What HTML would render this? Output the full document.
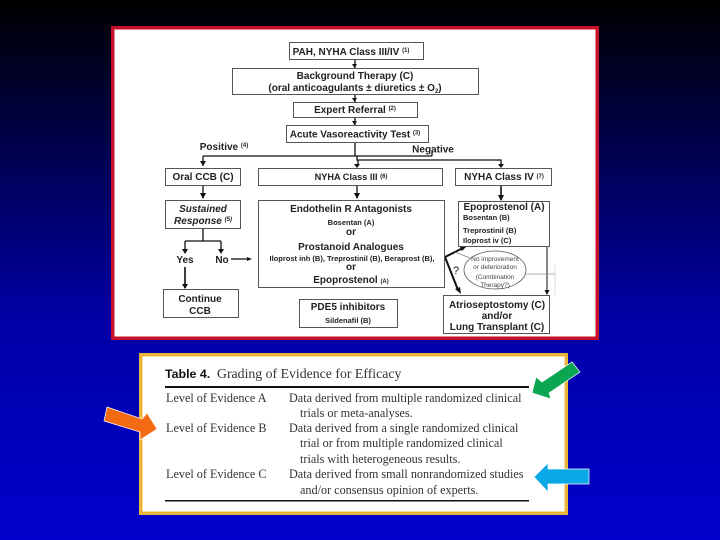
<!DOCTYPE html>
<html><head><meta charset="utf-8"><style>
html,body{margin:0;padding:0;width:720px;height:540px;overflow:hidden;background:#0000cc}
svg{display:block}
.b{fill:#fff;stroke:#555;stroke-width:1}
.l{stroke:#111;stroke-width:1.3;fill:none}
.h{fill:#111}
text{font-family:"Liberation Sans",sans-serif;font-weight:bold;fill:#222;text-anchor:middle}
.t{font-size:10px}
.s{font-size:7.500px}
.e{font-weight:normal;font-size:6.500px;fill:#444}
.r{font-family:"Liberation Serif",serif;font-weight:normal;font-size:12.200px;text-anchor:start;fill:#333}
</style></head><body>
<svg width="720" height="540" viewBox="0 0 720 540" xmlns="http://www.w3.org/2000/svg">
<defs><linearGradient id="g" x1="0" y1="0" x2="0" y2="1"><stop offset="0" stop-color="#000"/><stop offset=".6" stop-color="#0000a8"/><stop offset="1" stop-color="#0000cc"/></linearGradient></defs>
<rect width="720" height="540" fill="url(#g)"/>
<rect x="112.750" y="27.750" width="484.500" height="310.500" fill="#fff" stroke="#c8102a" stroke-width="3.500"/>

<!-- connectors -->
<g class="l">
<path d="M355 59V68M355 95V102M355 117V125"/>
<path d="M355 142V156M203 156H432M432 156V152"/>
<path d="M203 156V166M357 156V160H358V166M357 160H501V166"/>
<path d="M203 185V198M203 229V241M185 241H221M185 241V250M221 241V250"/>
<path d="M185 267V288" stroke-width="1.6"/>
<path d="M231 259H247"/>
<path d="M357 186V198"/>
<path d="M501 186V200" stroke-width="1.6"/>
<path d="M547 246V290" stroke="#444"/>
<path d="M445 257L463 248" stroke-width="2"/>
<path d="M445 257L458 290" stroke-width="2"/>
<path d="M455 252L470 258" stroke="#777" stroke-width=".7"/>
<path d="M526 274H555" stroke="#999" stroke-width=".7"/>
<path d="M555 265V295" stroke="#ccc" stroke-width=".7"/>
</g>
<g class="h">
<path d="M200 161h6l-3 5zM354 164h6l-3 4zM498 164h6l-3 4zM200 193h6l-3 6zM354 193h6l-3 6zM182 249h6l-3 5zM218 249h6l-3 5zM182 284h6l-3 5zM247 257v4l5-2zM352 64h5l-2.500 4zM352 98h5l-2.500 4zM352 121h5l-2.500 4zM498 195h6l-3 6zM544.500 290h5l-2.500 5zM467 246l-8-1 3 6zM461 294l-6-5 5-2z"/>
</g>

<!-- boxes -->
<rect class="b" x="289.500" y="42.500" width="134" height="17"/>
<rect class="b" x="232.500" y="68.500" width="246" height="26"/>
<rect class="b" x="293.500" y="102.500" width="124" height="15"/>
<rect class="b" x="286.500" y="125.500" width="142" height="17"/>
<rect class="b" x="165.500" y="168.500" width="75" height="17"/>
<rect class="b" x="258.500" y="168.500" width="184" height="17"/>
<rect class="b" x="455.500" y="168.500" width="96" height="17"/>
<rect class="b" x="165.500" y="200.500" width="75" height="28"/>
<rect class="b" x="258.500" y="200.500" width="186" height="87"/>
<rect class="b" x="163.500" y="289.500" width="75" height="28"/>
<rect class="b" x="299.500" y="299.500" width="98" height="28"/>
<rect class="b" x="458.500" y="201.500" width="91" height="45"/>
<rect class="b" x="443.500" y="295.500" width="106" height="38"/>
<ellipse cx="495" cy="270" rx="31" ry="19" fill="#fff" stroke="#555" stroke-width=".8"/>

<!-- flowchart labels -->
<text class="t" x="351" y="55">PAH, NYHA Class III/IV <tspan font-size="6" dy="-3">(1)</tspan></text>
<text class="t" x="355" y="79">Background Therapy (C)</text>
<text class="t" x="355" y="91">(oral anticoagulants ± diuretics ± O<tspan font-size="6" dy="2">2</tspan><tspan dy="-2">)</tspan></text>
<text class="t" x="355" y="113">Expert Referral <tspan font-size="6" dy="-3">(2)</tspan></text>
<text class="t" x="355" y="137.500">Acute Vasoreactivity Test <tspan font-size="6" dy="-3">(3)</tspan></text>
<text class="t" x="224" y="150">Positive <tspan font-size="6" dy="-3">(4)</tspan></text>
<text class="t" x="433" y="152.500">Negative</text>
<text class="t" x="203" y="180">Oral CCB (C)</text>
<text class="t" x="351" y="180" style="font-size:9.200px">NYHA Class III <tspan font-size="6" dy="-2">(6)</tspan></text>
<text class="t" x="504" y="180">NYHA Class IV <tspan font-size="6" dy="-2">(7)</tspan></text>
<text class="t" x="203" y="212" font-style="italic">Sustained</text>
<text class="t" x="203" y="224" font-style="italic">Response <tspan font-size="6" dy="-3">(5)</tspan></text>
<text class="t" x="185" y="263">Yes</text>
<text class="t" x="222" y="263">No</text>
<text class="t" x="200" y="302">Continue</text>
<text class="t" x="200" y="314">CCB</text>
<text class="t" x="351" y="212">Endothelin R Antagonists</text>
<text class="s" x="351" y="225">Bosentan (A)</text>
<text class="t" x="351" y="235">or</text>
<text class="t" x="351" y="250">Prostanoid Analogues</text>
<text class="s" x="352" y="261">Iloprost inh (B), Treprostinil (B), Beraprost (B),</text>
<text class="t" x="351" y="270">or</text>
<text class="t" x="351" y="283">Epoprostenol <tspan font-size="6">(A)</tspan></text>
<text class="t" x="348" y="310">PDE5 inhibitors</text>
<text class="s" x="348" y="323">Sildenafil (B)</text>
<text class="t" x="504" y="210">Epoprostenol (A)</text>
<text class="s" x="463" y="220" style="text-anchor:start">Bosentan (B)</text>
<text class="s" x="463" y="233" style="text-anchor:start">Treprostinil (B)</text>
<text class="s" x="463" y="243" style="text-anchor:start">Iloprost iv (C)</text>
<text x="456" y="274" style="font-size:11px;font-weight:normal">?</text>
<text class="e" x="495" y="261">No improvement</text>
<text class="e" x="495" y="269">or deterioration</text>
<text class="e" x="495" y="279">(Combination</text>
<text class="e" x="495" y="287">Therapy?)</text>
<text class="t" x="497" y="308">Atrioseptostomy (C)</text>
<text class="t" x="497" y="319">and/or</text>
<text class="t" x="497" y="330">Lung Transplant (C)</text>

<!-- table panel -->
<rect x="140.750" y="354.750" width="425.500" height="158.500" fill="#fff" stroke="#e8b53a" stroke-width="3.500"/>
<text x="165" y="378" style="font-size:12.400px;text-anchor:start;fill:#111">Table 4.</text>
<text class="r" x="217" y="378" style="font-size:13.800px">Grading of Evidence for Efficacy</text>
<rect x="165" y="386" width="364" height="2" fill="#111"/>
<text class="r" x="166" y="402">Level of Evidence A</text>
<text class="r" x="289" y="402">Data derived from multiple randomized clinical</text>
<text class="r" x="300" y="417">trials or meta-analyses.</text>
<text class="r" x="166" y="432">Level of Evidence B</text>
<text class="r" x="289" y="432">Data derived from a single randomized clinical</text>
<text class="r" x="300" y="447">trial or from multiple randomized clinical</text>
<text class="r" x="300" y="463">trials with heterogeneous results.</text>
<text class="r" x="166" y="478">Level of Evidence C</text>
<text class="r" x="289" y="478">Data derived from small nonrandomized studies</text>
<text class="r" x="300" y="494">and/or consensus opinion of experts.</text>
<rect x="165" y="500" width="364" height="1.500" fill="#111"/>

<!-- arrows -->
<polygon points="104,421 107,407 142,419 147,413 157,429 140,440 140,432" fill="#f26a12" stroke="#fff" stroke-width=".7"/>
<polygon points="532,393 536,377 542,382 572,362 580,372 549,393 551,399" fill="#0aa652" stroke="#fff" stroke-width=".7"/>
<polygon points="534,477 548,463 548,469 589,469 589,484 548,484 548,492" fill="#0aa8e6" stroke="#fff" stroke-width=".7"/>
</svg>
</body></html>
